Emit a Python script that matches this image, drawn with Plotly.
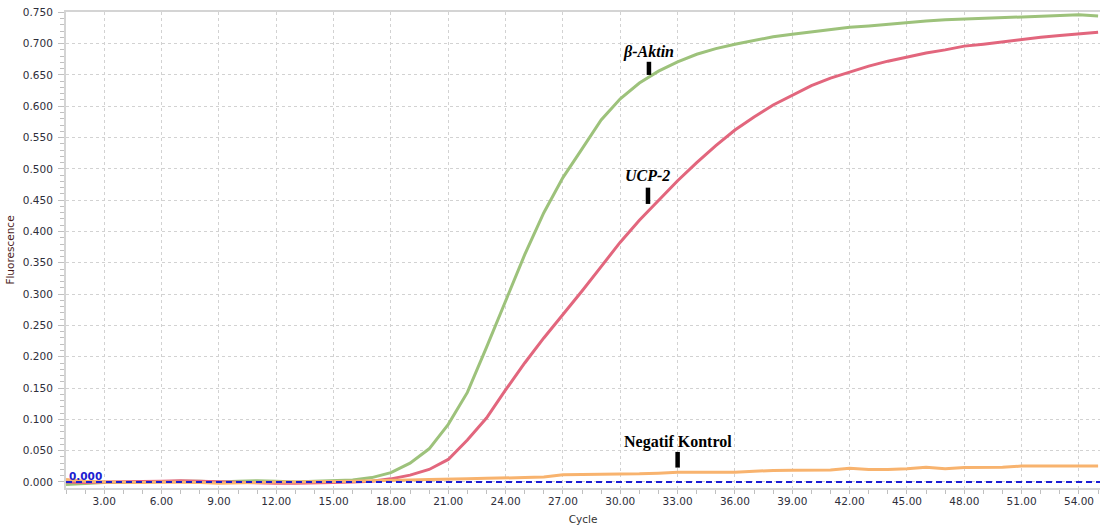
import plotly.graph_objects as go

cycles = list(range(1, 56))

beta_aktin = [-0.004, -0.002, -0.001, -0.001, 0.0, 0.0, 0.001, 0.001, 0.0, 0.001,
              0.002, 0.001, 0.0, 0.001, 0.002, 0.003, 0.007, 0.015, 0.030, 0.053,
              0.092, 0.143, 0.215, 0.290, 0.363, 0.430, 0.486, 0.532, 0.578, 0.612,
              0.637, 0.656, 0.671, 0.683, 0.692, 0.699, 0.705, 0.711, 0.715, 0.719,
              0.723, 0.726, 0.728, 0.731, 0.733, 0.736, 0.738, 0.739, 0.740, 0.741,
              0.742, 0.743, 0.744, 0.746, 0.744]

ucp2 = [0.0, -0.001, 0.0, 0.0, 0.0, 0.001, 0.002, 0.001, 0.0, 0.0,
        -0.001, -0.002, -0.002, -0.002, -0.001, 0.0, 0.001, 0.005, 0.011, 0.020,
        0.036, 0.067, 0.102, 0.147, 0.190, 0.230, 0.267, 0.305, 0.344, 0.383,
        0.418, 0.450, 0.481, 0.510, 0.537, 0.562, 0.583, 0.602, 0.618, 0.633,
        0.645, 0.655, 0.664, 0.672, 0.679, 0.685, 0.690, 0.696, 0.699, 0.703,
        0.707, 0.710, 0.713, 0.716, 0.718]

negatif = [0.004, 0.001, 0.0, -0.001, -0.001, 0.0, 0.0, -0.001, -0.002, -0.001,
           0.0, 0.0, 0.0, 0.0, 0.001, 0.001, 0.002, 0.002, 0.003, 0.004,
           0.004, 0.005, 0.006, 0.006, 0.007, 0.008, 0.0115, 0.012, 0.012, 0.012,
           0.013, 0.014, 0.0155, 0.0155, 0.0155, 0.0155, 0.017, 0.0185, 0.0187, 0.0187,
           0.019, 0.022, 0.020, 0.020, 0.021, 0.0235, 0.021, 0.023, 0.023, 0.0235,
           0.0255, 0.0255, 0.0255, 0.0255, 0.0255]

threshold = 0.0

x_ticks = [3, 6, 9, 12, 15, 18, 21, 24, 27, 30, 33, 36, 39, 42, 45, 48, 51, 54]
y_ticks = [0.0, 0.05, 0.10, 0.15, 0.20, 0.25, 0.30, 0.35, 0.40, 0.45, 0.50,
           0.55, 0.60, 0.65, 0.70, 0.75]

# label annotations: (text, x, y_text, y_bar_top, y_bar_bottom, italic)
labels = [
    ("β-Aktin", 31.5, 0.687, 0.671, 0.650, True),
    ("UCP-2", 31.45, 0.490, 0.470, 0.444, True),
    ("Negatif Kontrol", 33.0, 0.064, 0.048, 0.023, False),
]

fig = go.Figure()

series = [
    ("β-Aktin", beta_aktin, "#9dc27b"),
    ("UCP-2", ucp2, "#e2667d"),
    ("Negatif Kontrol", negatif, "#f8b36e"),
]
for name, vals, col in series:
    fig.add_trace(go.Scatter(x=cycles, y=vals, mode="lines", name=name,
                             line=dict(color=col, width=3), showlegend=False))

fig.add_shape(type="line", xref="paper", x0=0, x1=1, yref="y", y0=threshold, y1=threshold,
              line=dict(color="#1c1cd4", width=2, dash="6px,4px"))

fig.add_annotation(x=1.05, y=threshold, xref="x", yref="y", text="0.000",
                   showarrow=False, xanchor="left", yanchor="bottom", yshift=-2,
                   font=dict(family="DejaVu Sans", size=10.5, color="#2020d0", weight="bold"))

for text, x, yt, yb1, yb2, italic in labels:
    t = f"<b><i>{text}</i></b>" if italic else f"<b>{text}</b>"
    fig.add_annotation(x=x, y=yt, xref="x", yref="y", text=t, showarrow=False,
                       font=dict(family="Liberation Serif", size=16, color="#000000"))
    fig.add_shape(type="line", xref="x", yref="y", x0=x, x1=x, y0=yb1, y1=yb2,
                  line=dict(color="#000000", width=4.5))

tick_font = dict(family="DejaVu Sans", size=10.5, color="#2e2e3a")

fig.update_xaxes(range=[1, 55.1], tickvals=x_ticks, ticktext=[f"{v:.2f}" for v in x_ticks],
                 showgrid=True, gridcolor="#d2d2d2", griddash="dot", gridwidth=1,
                 showline=True, linecolor="#d4d4d4", linewidth=2, mirror=True,
                 ticks="outside", ticklen=2, tickcolor="#c0c0c0",
                 minor=dict(dtick=1, tick0=0, ticks="outside", ticklen=4, tickcolor="#c0c0c0", showgrid=False),
                 zeroline=False, tickfont=tick_font, automargin=False, ticklabelstandoff=0,
                 ticklabeloverflow="allow",
                 title=dict(text="Cycle", font=dict(family="DejaVu Sans", size=10.5, color="#333333"), standoff=10))

fig.update_yaxes(range=[-0.0096, 0.7505], tickvals=y_ticks, ticktext=[f"{v:.3f}" for v in y_ticks],
                 showgrid=True, gridcolor="#d2d2d2", griddash="dot", gridwidth=1,
                 showline=True, linecolor="#d4d4d4", linewidth=2, mirror=False,
                 ticks="outside", ticklen=6, tickcolor="#c0c0c0",
                 minor=dict(dtick=0.01, tick0=0, ticks="outside", ticklen=4, tickcolor="#c0c0c0", showgrid=False),
                 zeroline=False, tickfont=tick_font, automargin=False, ticklabelstandoff=3,
                 ticklabeloverflow="allow",
                 title=dict(text="Fluorescence", font=dict(family="DejaVu Sans", size=10.5, color="#4a1a1a"), standoff=6))

fig.update_layout(width=1100, height=530, margin=dict(l=66, r=0, t=12, b=42),
                  plot_bgcolor="white", paper_bgcolor="white", showlegend=False)

fig.write_html("out.html", config={"displayModeBar": False},
               post_script="document.body.style.margin='0';")
